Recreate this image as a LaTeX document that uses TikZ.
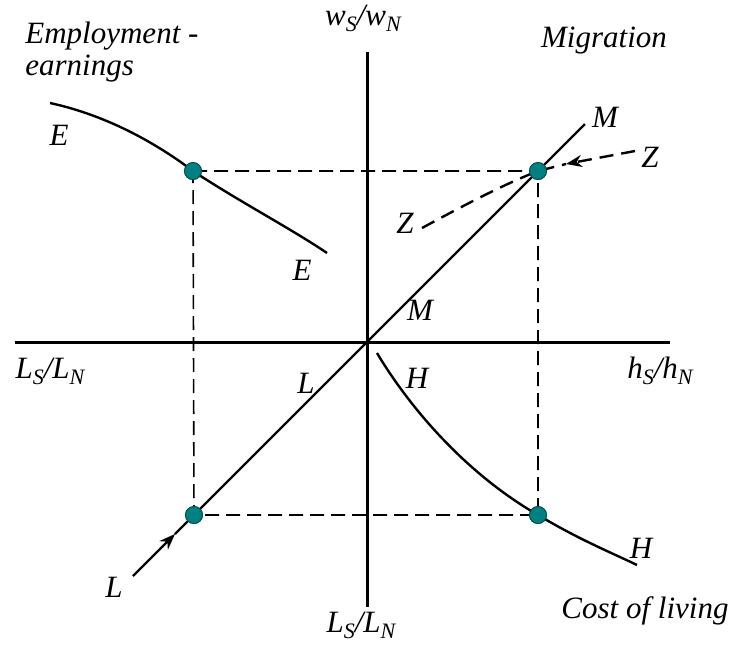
\documentclass[tikz,border=0pt]{standalone}
\usepackage{fontspec}
\setmainfont{Liberation Serif}
\usetikzlibrary{arrows.meta}
\newcommand{\subidx}[1]{\raisebox{-3pt}{\fontsize{11}{11}\selectfont #1}}
\newcommand{\relq}[1]{#1\subidx{S}/#1\subidx{N}}
\definecolor{dotteal}{RGB}{0,128,128}

\begin{document}
\begin{tikzpicture}[x=0.5pt, y=-0.5pt,
  axis/.style={line width=1.5pt},
  curve/.style={line width=1.2pt},
  guide/.style={line width=0.8pt, dash pattern=on 7pt off 3.5pt},
  zpath/.style={line width=1.2pt, dash pattern=on 7pt off 4pt},
  eqpt/.style={circle, fill=dotteal, draw=dotteal!60!black, line width=0.4pt,
               inner sep=0pt, minimum size=8.5pt},
  lbl/.style={font=\fontsize{15.5}{16}\selectfont\itshape, inner sep=0pt, anchor=base},
  tip/.style={-{Stealth[length=8pt, width=6pt]}}
]
  \useasboundingbox (0,0) rectangle (730,655);

  \coordinate (O)  at (367,342);
  \coordinate (xl) at (15,342);
  \coordinate (xr) at (670,342);
  \coordinate (yt) at (367,52);
  \coordinate (yb) at (367,607);
  \coordinate (lstart) at (133,576);
  \coordinate (ltip)   at (175,534);
  \coordinate (mend)   at (585,124);
  \coordinate (zlo)  at (422,228);
  \coordinate (zhi)  at (635,151);
  \coordinate (ztip) at (566,164);
  \coordinate (estart) at (50,103);
  \coordinate (eend)   at (327,253);
  \coordinate (hstart) at (377,353);
  \coordinate (hend)   at (637,565);

  \node[eqpt] (nw) at (193,171) {};
  \node[eqpt] (ne) at (538,171) {};
  \node[eqpt] (sw) at (194,515) {};
  \node[eqpt] (se) at (538,515) {};

  \draw[axis] (xl) -- (xr);
  \draw[axis] (yt) -- (yb);

  \draw[guide] (nw.center) -- (ne.center) -- (se.center) -- (sw.center) -- (nw.center);

  \draw[curve, tip] (lstart) -- (ltip);
  \draw[curve] (ltip) -- (sw.center) -- (O) -- (ne.center) -- (mend);

  \draw[zpath] (zlo) .. controls (470,202) and (505,184) .. (ne.center) -- (ztip);
  \draw[zpath, tip] (zhi) -- (ztip);

  \draw[curve] (estart) .. controls (110,116) and (160,146) .. (nw.center)
               .. controls (240,202) and (290,228) .. (eend);
  \draw[curve] (hstart) .. controls (405,400) and (460,470) .. (se.center)
               .. controls (580,540) and (610,552) .. (hend);

  \node[eqpt] at (nw) {};
  \node[eqpt] at (ne) {};
  \node[eqpt] at (sw) {};
  \node[eqpt] at (se) {};

  \node[lbl] (wlab)  at (363,25)  {\relq{w}};
  \node[lbl] (llab)  at (50,378)  {\relq{L}};
  \node[lbl] (hlab)  at (660,378) {\relq{h}};
  \node[lbl] (lblab) at (361,632) {\relq{L}};

  \node[lbl, anchor=base west, align=left] (emp) at (25,75) {Employment -\\earnings};
  \node[lbl] (mig)  at (604,47)  {Migration};
  \node[lbl] (cost) at (645,618) {Cost of living};

  \node[lbl] (e1) at (59,145)  {E};
  \node[lbl] (e2) at (302,280) {E};
  \node[lbl] (m1) at (605,127) {M};
  \node[lbl] (m2) at (420,320) {M};
  \node[lbl] (z1) at (650,167) {Z};
  \node[lbl] (z2) at (405,233) {Z};
  \node[lbl] (l1) at (306,393) {L};
  \node[lbl] (l2) at (114,597) {L};
  \node[lbl] (h1) at (417,388) {H};
  \node[lbl] (h2) at (641,558) {H};
\end{tikzpicture}
\end{document}
